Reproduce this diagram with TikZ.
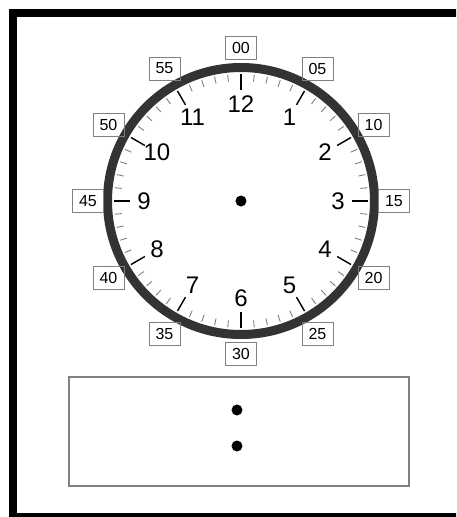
\documentclass[tikz,border=0pt]{standalone}
\usepackage{fontspec}
\setmainfont{Liberation Sans}
\usepackage{tikz}

\begin{document}
\begin{tikzpicture}[x=1pt,y=1pt,
		hournum/.style={font=\fontsize{24}{24}\selectfont, inner sep=0pt},
		minbox/.style={draw=gray, line width=.8pt, minimum width=31pt, minimum height=23pt, inner sep=0pt, font=\fontsize{16}{16}\selectfont},
		dot/.style={circle, fill=black, inner sep=0pt, minimum size=11pt}]
			\useasboundingbox (-241,-316) rectangle (215,201);
			\clip (-241,-316) rectangle (215,201);
			\draw[line width=8pt] (-228,-316) rectangle (240,188);
			\draw[line width=9pt, black!80] (0,0) circle (133.5);
			\foreach \m in {0,...,59}
				\draw[gray, line width=.9pt] (90-6*\m:120) -- (90-6*\m:127);
			\foreach \h in {1,...,12}
				\draw[line width=1.4pt] (90-30*\h:111) -- (90-30*\h:127);
			\foreach \h in {1,...,12}
				\node[hournum] (h\h) at (90-30*\h:97) {\h};
			\foreach \m/\t in {0/00,5/05,10/10,15/15,20/20,25/25,30/30,35/35,40/40,45/45,50/50,55/55}
				\node[minbox] (m\m) at (90-6*\m:153) {\t};
			\node[dot] (pivot) at (0,0) {};
			\node[draw=gray, line width=2pt, minimum width=340pt, minimum height=109pt, inner sep=0pt] (answer) at (-2,-230.5) {};
			\node[dot] (colontop) at (-4,-209) {};
			\node[dot] (colonbot) at (-4,-245) {};
\end{tikzpicture}
\end{document}
